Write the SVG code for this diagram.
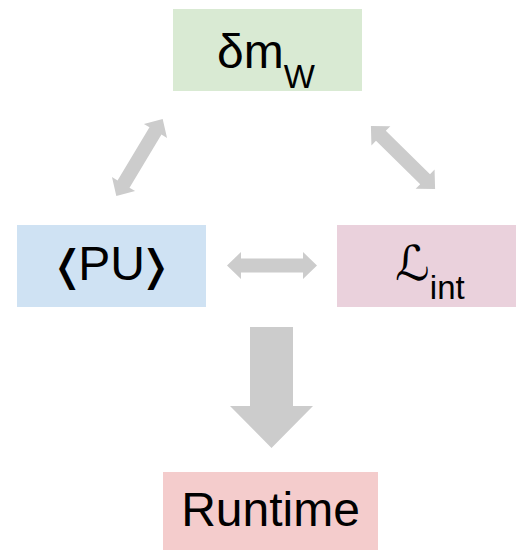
<svg xmlns="http://www.w3.org/2000/svg" xmlns:xlink="http://www.w3.org/1999/xlink" width="516" height="550" viewBox="0 0 516 550">
  <style>
    .lbl { font-family: "Liberation Sans", Arial, "DejaVu Sans", sans-serif; font-size: 48px; fill: #000; text-anchor: middle; }
    .sub { font-size: 33px; }
    .br { font-family: "DejaVu Sans", sans-serif; font-size: 42px; }
    .arrow { fill: #cccccc; }
  </style>
  <defs>
    <!-- double-headed arrow, 90 long, centred on the origin along x -->
    <polygon id="dbl" points="-45,0 -31,-13.5 -31,-7 31,-7 31,-13.5 45,0 31,13.5 31,7 -31,7 -31,13.5"/>
  </defs>

  <g id="connectors" class="arrow">
    <use xlink:href="#dbl" href="#dbl" transform="translate(139.5,157.5) rotate(-59)"/>
    <use xlink:href="#dbl" href="#dbl" transform="translate(403,157.5) rotate(44.5)"/>
    <use xlink:href="#dbl" href="#dbl" transform="translate(272,265.5)"/>
    <polygon points="250,327 293,327 293,406 313,406 271.5,448 230,406 250,406"/>
  </g>

  <g id="dm">
    <rect x="173" y="9" width="189" height="82" fill="#d9ead3"/>
    <text class="lbl" x="266" y="68">δm<tspan class="sub" dy="20">W</tspan></text>
  </g>

  <g id="pu">
    <rect x="17" y="225" width="189" height="82" fill="#cfe2f3"/>
    <text class="lbl" x="111.5" y="280"><tspan class="br">❬</tspan><tspan dx="-7">PU</tspan><tspan class="br" dx="-7">❭</tspan></text>
  </g>

  <g id="lint">
    <rect x="337" y="225" width="189" height="82" fill="#ead1dc"/>
    <text class="lbl" x="430" y="280">ℒ<tspan class="sub" dy="19">int</tspan></text>
  </g>

  <g id="runtime">
    <rect x="163" y="472" width="215" height="82" fill="#f4cccc"/>
    <text class="lbl" x="270.5" y="526">Runtime</text>
  </g>
</svg>
